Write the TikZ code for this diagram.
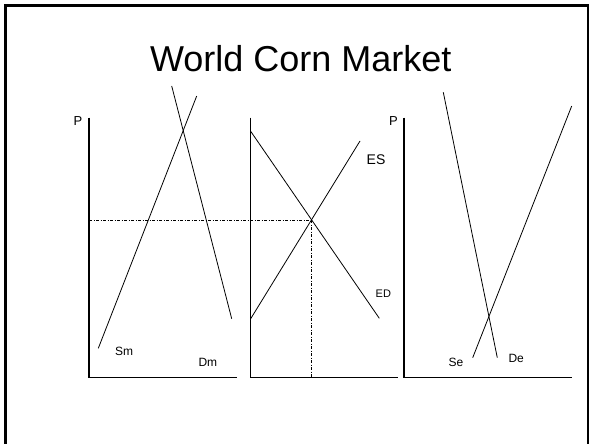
\documentclass[tikz,border=0pt]{standalone}
\usepackage{fontspec}
\setmainfont{Liberation Sans}
\usetikzlibrary{positioning}

\begin{document}
\begin{tikzpicture}[
  x=1pt, y=-1pt,
  axis/.style={line width=1.2pt},
  curve/.style={line width=0.8pt},
  guide/.style={line width=0.6pt, dash pattern=on 3pt off 1.5pt on 1pt off 1.5pt},
  lbl/.style={inner sep=0pt, anchor=base west, font=\fontsize{12}{14}\selectfont}
]
  \useasboundingbox (0,0) rectangle (592,444);
  \draw[line width=2.8pt] (5.5,444) -- (5.5,5.3) -- (588,5.3) -- (588,444);

  \node[inner sep=0pt, anchor=base, font=\fontsize{36}{40}\selectfont] (title) at (300.8,71.7) {World Corn Market};

  % axes
  \coordinate (top1) at (89,117.7);    \coordinate (org1) at (89,377.7);    \coordinate (end1) at (236.7,377.7);
  \coordinate (top2) at (250.7,117.7); \coordinate (org2) at (250.7,377.7); \coordinate (end2) at (398.3,377.7);
  \coordinate (top3) at (404,117.7);   \coordinate (org3) at (404,377.7);   \coordinate (end3) at (571.7,377.7);
  \draw[axis] (top1) -- (org1) -- (end1);
  \draw[axis] (top2) -- (org2) -- (end2);
  \draw[axis] (top3) -- (org3) -- (end3);

  \node[lbl, font=\fontsize{13}{15}\selectfont] (p1) at (73.5,125.7) {P};
  \node[lbl, font=\fontsize{13}{15}\selectfont] (p3) at (389,125.7) {P};

  % importer
  \coordinate (Sm0) at (98.3,348.3);  \coordinate (Sm1) at (196.7,96);
  \coordinate (Dm0) at (171.7,86);    \coordinate (Dm1) at (231.7,318.7);
  \draw[curve] (Sm0) -- (Sm1);
  \draw[curve] (Dm0) -- (Dm1);
  \node[lbl] (sm) at (115,355.7) {Sm};
  \node[lbl] (dm) at (198.3,366) {Dm};

  % world market
  \coordinate (ES0) at (250.7,318.7); \coordinate (ES1) at (360,141);
  \coordinate (ED0) at (250.7,131.3); \coordinate (ED1) at (379.3,318.3);
  \coordinate (eq) at (311,220);
  \draw[curve] (ES0) -- (ES1);
  \draw[curve] (ED0) -- (ED1);
  \node[lbl, font=\fontsize{14}{16}\selectfont] (es) at (366.5,164) {ES};
  \node[lbl, font=\fontsize{11}{13}\selectfont] (ed) at (375.5,297.3) {ED};

  \draw[guide] (top1 |- eq) -- (eq);
  \draw[guide] (eq) -- (eq |- org2);

  % exporter
  \coordinate (De0) at (443.3,92.3);  \coordinate (De1) at (497.3,357.7);
  \coordinate (Se0) at (472.7,357.7); \coordinate (Se1) at (571.7,106);
  \draw[curve] (De0) -- (De1);
  \draw[curve] (Se0) -- (Se1);
  \node[lbl] (se) at (448.3,366.7) {Se};
  \node[lbl] (de) at (508.3,362.3) {De};
\end{tikzpicture}
\end{document}
